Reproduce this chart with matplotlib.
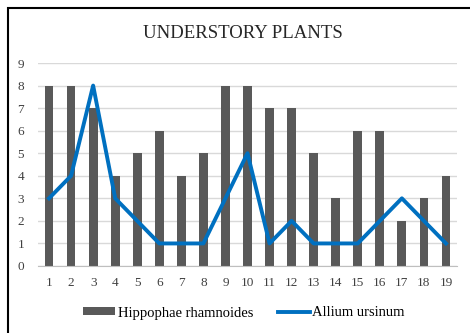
import matplotlib.pyplot as plt
from matplotlib.patches import Rectangle

# data
days = list(range(1, 20))
hippophae = [8, 8, 7, 4, 5, 6, 4, 5, 8, 8, 7, 7, 5, 3, 6, 6, 2, 3, 4]
allium = [3, 4, 8, 3, 2, 1, 1, 1, 3, 5, 1, 2, 1, 1, 1, 2, 3, 2, 1]

plt.rcParams['font.family'] = ['Liberation Serif', 'DejaVu Serif']

fig = plt.figure(figsize=(4.7, 3.33), dpi=100)
W, H = 470, 333
ax = fig.add_axes([38 / W, 1 - 266 / H, (457 - 38) / W, (266 - 63) / H])

bars = ax.bar(days, hippophae, width=0.4, color='#595959', label='Hippophae rhamnoides', zorder=2)
line, = ax.plot(days, allium, color='#0070c0', lw=2.8, label='Allium ursinum', zorder=3)

ax.set_xlim(0.5, 19.5)
ax.set_ylim(0, 9)
ax.set_yticks(range(0, 10))
ax.set_xticks(days)
ax.grid(axis='y', color='#d9d9d9', lw=1, zorder=0)
for s in ['top', 'right', 'left']:
    ax.spines[s].set_visible(False)
ax.spines['bottom'].set_color('#bfbfbf')
ax.tick_params(length=0, labelsize=9.5, colors='#404040')
ax.tick_params(axis='x', pad=8)
ax.tick_params(axis='y', pad=10)

fig.text(243 / W, 1 - 33 / H, 'UNDERSTORY PLANTS', ha='center', va='center',
         fontsize=13.5, color='#262626')

fig.legend([bars, line], ['Hippophae rhamnoides', 'Allium ursinum'],
           loc='center', bbox_to_anchor=(244 / W, 1 - 313 / H), ncol=2, frameon=False,
           fontsize=10.5, handlelength=2.2, handleheight=0.5, handletextpad=0.15, columnspacing=1.7)

fig.patches.append(Rectangle((8 / W, -0.1), 1.2, 1 - 8 / H + 0.1, transform=fig.transFigure,
                             fill=False, ec='black', lw=1.5))

fig.savefig('out.png', dpi=100)
